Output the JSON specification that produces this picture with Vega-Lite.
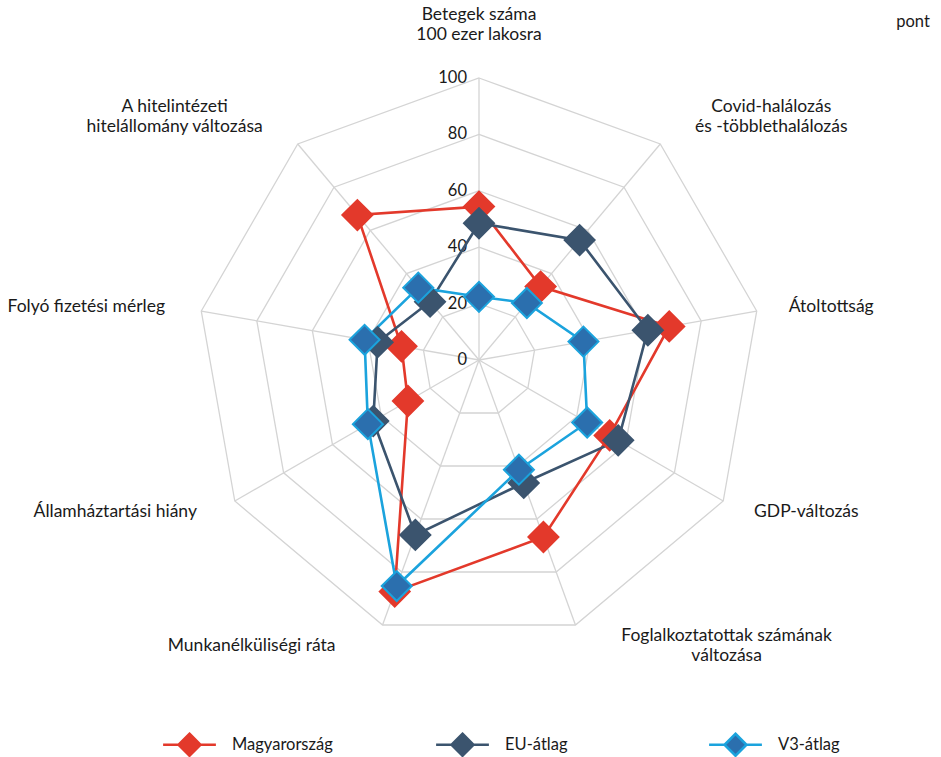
{
  "$schema": "https://vega.github.io/schema/vega-lite/v6.json",
  "width": 941,
  "height": 757,
  "autosize": {"type": "none"},
  "padding": 0,
  "background": "white",
  "config": {"view": {"stroke": null}, "font": "Lato"},
  "datasets": {
    "axes": [
      {"k": 0, "axis": "Betegek száma", "label": "Betegek száma\n100 ezer lakosra"},
      {"k": 1, "axis": "Covid-halálozás", "label": "Covid-halálozás\nés -többlethalálozás"},
      {"k": 2, "axis": "Átoltottság", "label": "Átoltottság"},
      {"k": 3, "axis": "GDP-változás", "label": "GDP-változás"},
      {"k": 4, "axis": "Foglalkoztatottak", "label": "Foglalkoztatottak számának\nváltozása"},
      {"k": 5, "axis": "Munkanélküliségi ráta", "label": "Munkanélküliségi ráta"},
      {"k": 6, "axis": "Államháztartási hiány", "label": "Államháztartási hiány"},
      {"k": 7, "axis": "Folyó fizetési mérleg", "label": "Folyó fizetési mérleg"},
      {"k": 8, "axis": "Hitelállomány", "label": "A hitelintézeti\nhitelállomány változása"}
    ],
    "rings": [
      {"level": 20, "k": [0, 1, 2, 3, 4, 5, 6, 7, 8]},
      {"level": 40, "k": [0, 1, 2, 3, 4, 5, 6, 7, 8]},
      {"level": 60, "k": [0, 1, 2, 3, 4, 5, 6, 7, 8]},
      {"level": 80, "k": [0, 1, 2, 3, 4, 5, 6, 7, 8]},
      {"level": 100, "k": [0, 1, 2, 3, 4, 5, 6, 7, 8]}
    ],
    "ticks": [{"level": 0}, {"level": 20}, {"level": 40}, {"level": 60}, {"level": 80}, {"level": 100}],
    "values": [
      {"series": "Magyarország", "axis": "Betegek száma", "value": 54.4},
      {"series": "Magyarország", "axis": "Covid-halálozás", "value": 34},
      {"series": "Magyarország", "axis": "Átoltottság", "value": 68.5},
      {"series": "Magyarország", "axis": "GDP-változás", "value": 53.5},
      {"series": "Magyarország", "axis": "Foglalkoztatottak", "value": 66.8},
      {"series": "Magyarország", "axis": "Munkanélküliségi ráta", "value": 87.4},
      {"series": "Magyarország", "axis": "Államháztartási hiány", "value": 29.1},
      {"series": "Magyarország", "axis": "Folyó fizetési mérleg", "value": 27.9},
      {"series": "Magyarország", "axis": "Hitelállomány", "value": 67.1},
      {"series": "EU-átlag", "axis": "Betegek száma", "value": 48.5},
      {"series": "EU-átlag", "axis": "Covid-halálozás", "value": 55.5},
      {"series": "EU-átlag", "axis": "Átoltottság", "value": 60.8},
      {"series": "EU-átlag", "axis": "GDP-változás", "value": 57},
      {"series": "EU-átlag", "axis": "Foglalkoztatottak", "value": 46.4},
      {"series": "EU-átlag", "axis": "Munkanélküliségi ráta", "value": 66},
      {"series": "EU-átlag", "axis": "Államháztartási hiány", "value": 43.3},
      {"series": "EU-átlag", "axis": "Folyó fizetési mérleg", "value": 36.5},
      {"series": "EU-átlag", "axis": "Hitelállomány", "value": 27},
      {"series": "V3-átlag", "axis": "Betegek száma", "value": 22.4},
      {"series": "V3-átlag", "axis": "Covid-halálozás", "value": 26.4},
      {"series": "V3-átlag", "axis": "Átoltottság", "value": 37.6},
      {"series": "V3-átlag", "axis": "GDP-változás", "value": 44.3},
      {"series": "V3-átlag", "axis": "Foglalkoztatottak", "value": 41.4},
      {"series": "V3-átlag", "axis": "Munkanélküliségi ráta", "value": 85.3},
      {"series": "V3-átlag", "axis": "Államháztartási hiány", "value": 45.5},
      {"series": "V3-átlag", "axis": "Folyó fizetési mérleg", "value": 41.2},
      {"series": "V3-átlag", "axis": "Hitelállomány", "value": 33.5}
    ]
  },
  "layer": [
    {
      "data": {"name": "rings"},
      "transform": [
        {"flatten": ["k"]},
        {"calculate": "datum.level*sin(datum.k*2*PI/9)", "as": "x"},
        {"calculate": "datum.level*cos(datum.k*2*PI/9)", "as": "y"}
      ],
      "mark": {"type": "line", "interpolate": "linear-closed", "stroke": "#d4d4d4", "strokeWidth": 1.3},
      "encoding": {
        "x": {"field": "x", "type": "quantitative", "scale": {"domain": [-169.86, 163.83], "nice": false, "zero": false}, "axis": null},
        "y": {"field": "y", "type": "quantitative", "scale": {"domain": [-140.78, 127.66], "nice": false, "zero": false}, "axis": null},
        "detail": {"field": "level", "type": "nominal"},
        "order": {"field": "k", "type": "quantitative"}
      }
    },
    {
      "data": {"name": "axes"},
      "transform": [
        {"calculate": "0", "as": "x"},
        {"calculate": "0", "as": "y"},
        {"calculate": "100*sin(datum.k*2*PI/9)", "as": "x2"},
        {"calculate": "100*cos(datum.k*2*PI/9)", "as": "y2"}
      ],
      "mark": {"type": "rule", "stroke": "#d4d4d4", "strokeWidth": 1.3},
      "encoding": {
        "x": {"field": "x", "type": "quantitative", "scale": {"domain": [-169.86, 163.83], "nice": false, "zero": false}, "axis": null},
        "y": {"field": "y", "type": "quantitative", "scale": {"domain": [-140.78, 127.66], "nice": false, "zero": false}, "axis": null},
        "x2": {"field": "x2"},
        "y2": {"field": "y2"}
      }
    },
    {
      "data": {"name": "ticks"},
      "transform": [{"calculate": "0", "as": "x"}],
      "mark": {"type": "text", "align": "right", "baseline": "middle", "dx": -12, "fontSize": 16.5, "font": "Lato", "color": "#1a1a1a"},
      "encoding": {
        "x": {"field": "x", "type": "quantitative", "scale": {"domain": [-169.86, 163.83], "nice": false, "zero": false}, "axis": null},
        "y": {"field": "level", "type": "quantitative", "scale": {"domain": [-140.78, 127.66], "nice": false, "zero": false}, "axis": null},
        "text": {"field": "level", "type": "quantitative"}
      }
    },
    {
      "data": {"name": "axes"},
      "transform": [
        {"calculate": "datum.k*2*PI/9", "as": "a"},
        {"calculate": "length(split(datum.label,'\\n'))", "as": "n"},
        {"calculate": "max(length(split(datum.label,'\\n')[0]), length(peek(split(datum.label,'\\n'))))*1.436", "as": "hw"},
        {"calculate": "(30 + 18*pow(max(-cos(datum.a),0),2))/2.82", "as": "gap"},
        {"calculate": "datum.k==0 ? 0 : 100*sin(datum.a) + (sin(datum.a)>0 ? 1 : -1)*(datum.gap + datum.hw)", "as": "lx"},
        {"calculate": "(datum.k==0 ? 118.8 : cos(datum.a)*(108 + 6*max(cos(datum.a),0))) + (datum.n-1)*3.55", "as": "ly"}
      ],
      "mark": {"type": "text", "align": "center", "baseline": "middle", "lineBreak": "\n", "lineHeight": 20, "fontSize": 17.5, "font": "Lato", "color": "#1a1a1a"},
      "encoding": {
        "x": {"field": "lx", "type": "quantitative", "scale": {"domain": [-169.86, 163.83], "nice": false, "zero": false}, "axis": null},
        "y": {"field": "ly", "type": "quantitative", "scale": {"domain": [-140.78, 127.66], "nice": false, "zero": false}, "axis": null},
        "text": {"field": "label", "type": "nominal"}
      }
    },
    {
      "data": {"name": "values"},
      "transform": [
        {"filter": "datum.series == 'Magyarország'"},
        {"lookup": "axis", "from": {"data": {"name": "axes"}, "key": "axis", "fields": ["k"]}},
        {"calculate": "datum.value*sin(datum.k*2*PI/9)", "as": "x"},
        {"calculate": "datum.value*cos(datum.k*2*PI/9)", "as": "y"}
      ],
      "mark": {"type": "line", "interpolate": "linear-closed", "stroke": "#e3392b", "strokeWidth": 2.6},
      "encoding": {
        "x": {"field": "x", "type": "quantitative", "scale": {"domain": [-169.86, 163.83], "nice": false, "zero": false}, "axis": null},
        "y": {"field": "y", "type": "quantitative", "scale": {"domain": [-140.78, 127.66], "nice": false, "zero": false}, "axis": null},
        "order": {"field": "k", "type": "quantitative"}
      }
    },
    {
      "data": {"name": "values"},
      "transform": [
        {"filter": "datum.series == 'EU-átlag'"},
        {"lookup": "axis", "from": {"data": {"name": "axes"}, "key": "axis", "fields": ["k"]}},
        {"calculate": "datum.value*sin(datum.k*2*PI/9)", "as": "x"},
        {"calculate": "datum.value*cos(datum.k*2*PI/9)", "as": "y"}
      ],
      "mark": {"type": "line", "interpolate": "linear-closed", "stroke": "#3b546e", "strokeWidth": 2.6},
      "encoding": {
        "x": {"field": "x", "type": "quantitative", "scale": {"domain": [-169.86, 163.83], "nice": false, "zero": false}, "axis": null},
        "y": {"field": "y", "type": "quantitative", "scale": {"domain": [-140.78, 127.66], "nice": false, "zero": false}, "axis": null},
        "order": {"field": "k", "type": "quantitative"}
      }
    },
    {
      "data": {"name": "values"},
      "transform": [
        {"filter": "datum.series == 'V3-átlag'"},
        {"lookup": "axis", "from": {"data": {"name": "axes"}, "key": "axis", "fields": ["k"]}},
        {"calculate": "datum.value*sin(datum.k*2*PI/9)", "as": "x"},
        {"calculate": "datum.value*cos(datum.k*2*PI/9)", "as": "y"}
      ],
      "mark": {"type": "line", "interpolate": "linear-closed", "stroke": "#1ba3dd", "strokeWidth": 2.6},
      "encoding": {
        "x": {"field": "x", "type": "quantitative", "scale": {"domain": [-169.86, 163.83], "nice": false, "zero": false}, "axis": null},
        "y": {"field": "y", "type": "quantitative", "scale": {"domain": [-140.78, 127.66], "nice": false, "zero": false}, "axis": null},
        "order": {"field": "k", "type": "quantitative"}
      }
    },
    {
      "data": {"name": "values"},
      "transform": [
        {"lookup": "axis", "from": {"data": {"name": "axes"}, "key": "axis", "fields": ["k"]}},
        {"calculate": "datum.value*sin(datum.k*2*PI/9)", "as": "x"},
        {"calculate": "datum.value*cos(datum.k*2*PI/9)", "as": "y"}
      ],
      "mark": {"type": "point", "shape": "diamond", "filled": true, "size": 900, "strokeWidth": 2, "opacity": 1},
      "encoding": {
        "x": {"field": "x", "type": "quantitative", "scale": {"domain": [-169.86, 163.83], "nice": false, "zero": false}, "axis": null},
        "y": {"field": "y", "type": "quantitative", "scale": {"domain": [-140.78, 127.66], "nice": false, "zero": false}, "axis": null},
        "fill": {
          "field": "series", "type": "nominal",
          "scale": {"domain": ["Magyarország", "EU-átlag", "V3-átlag"], "range": ["#e3392b", "#3b546e", "#2b6fae"]},
          "legend": {"title": null, "orient": "none", "legendX": 177, "legendY": 732, "direction": "horizontal", "symbolType": "M-2.4,0L-1,0M1,0L2.4,0M0,-1L1,0L0,1L-1,0Z", "symbolSize": 484, "symbolStrokeWidth": 2.5, "labelFont": "Lato", "labelFontSize": 16.5, "labelColor": "#1a1a1a", "labelOffset": 30, "columnPadding": 98, "gridAlign": "all"}
        },
        "stroke": {
          "field": "series", "type": "nominal",
          "scale": {"domain": ["Magyarország", "EU-átlag", "V3-átlag"], "range": ["#e3392b", "#3b546e", "#1ba3dd"]},
          "legend": {"title": null, "orient": "none", "legendX": 177, "legendY": 732, "direction": "horizontal", "symbolType": "M-2.4,0L-1,0M1,0L2.4,0M0,-1L1,0L0,1L-1,0Z", "symbolSize": 484, "symbolStrokeWidth": 2.5, "labelFont": "Lato", "labelFontSize": 16.5, "labelColor": "#1a1a1a", "labelOffset": 30, "columnPadding": 98, "gridAlign": "all"}
        }
      }
    },
    {
      "data": {"values": [{"t": "pont"}]},
      "transform": [{"calculate": "153.9", "as": "x"}, {"calculate": "119.9", "as": "y"}],
      "mark": {"type": "text", "align": "center", "baseline": "middle", "fontSize": 16.5, "font": "Lato", "color": "#1a1a1a"},
      "encoding": {
        "x": {"field": "x", "type": "quantitative", "scale": {"domain": [-169.86, 163.83], "nice": false, "zero": false}, "axis": null},
        "y": {"field": "y", "type": "quantitative", "scale": {"domain": [-140.78, 127.66], "nice": false, "zero": false}, "axis": null},
        "text": {"field": "t", "type": "nominal"}
      }
    }
  ]
}
